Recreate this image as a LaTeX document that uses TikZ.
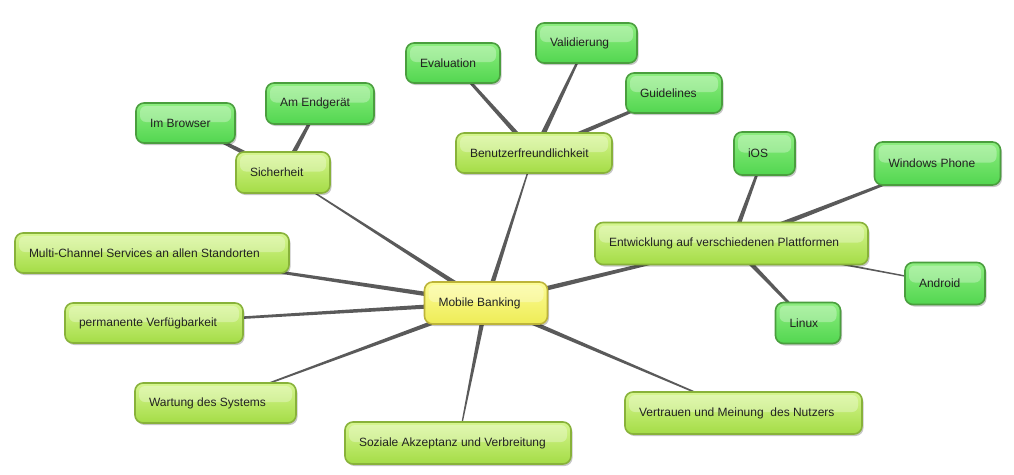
\documentclass[tikz,border=0pt]{standalone}
\usepackage{fontspec}
\setmainfont{Liberation Sans}
\usetikzlibrary{calc,shadows}
\pgfdeclarelayer{bg}
\pgfsetlayers{bg,main}
\definecolor{limeT}{HTML}{D6F690}
\definecolor{limeB}{HTML}{A4DC46}
\definecolor{limeD}{HTML}{88B23A}
\definecolor{grnT}{HTML}{8EEE80}
\definecolor{grnB}{HTML}{52D650}
\definecolor{grnD}{HTML}{4A9E3E}
\definecolor{yelT}{HTML}{FCFC96}
\definecolor{yelB}{HTML}{EEEC56}
\definecolor{yelD}{HTML}{BDB43A}
\definecolor{connc}{HTML}{5A5A5A}
\definecolor{txt}{HTML}{222222}
\tikzset{
  box/.style={rounded corners=8pt, line width=1.6pt, inner xsep=14pt, inner ysep=0pt,
    font=\fontsize{12}{14}\selectfont, text=txt,
    drop shadow={shadow xshift=1.5pt, shadow yshift=-2pt, opacity=0.22, fill=black},
    path picture={\fill[white,opacity=0.3,rounded corners=6pt]
      ([xshift=4pt,yshift=-3pt]path picture bounding box.north west) rectangle
      ([xshift=-4pt,yshift=1pt]path picture bounding box.east);}},
  limebox/.style={box, draw=limeD, top color=limeT, bottom color=limeB},
  greenbox/.style={box, draw=grnD, top color=grnT, bottom color=grnB},
  yellowbox/.style={box, draw=yelD, top color=yelT, bottom color=yelB},
}
\newcommand\taper[4]{\fill[connc]
  ($(#1.center)!#3!90:(#2.center)$) -- ($(#2.center)!#4!-90:(#1.center)$) --
  ($(#2.center)!#4!90:(#1.center)$) -- ($(#1.center)!#3!-90:(#2.center)$) -- cycle;}
\newcommand\lbl[2]{\makebox[#1][l]{#2}}
\begin{document}
\begin{tikzpicture}[x=1pt,y=-1pt]
\useasboundingbox (0,0) rectangle (1014,474);

\node[yellowbox, minimum height=42pt] (mb) at (486,303) {\lbl{95pt}{Mobile Banking}};

\node[limebox, minimum height=41pt] (sich) at (283,172.5) {\lbl{66pt}{Sicherheit}};
\node[greenbox, minimum height=40pt] (brow) at (185.5,123) {\lbl{71pt}{Im Browser}};
\node[greenbox, minimum height=41pt] (endg) at (320,103.5) {\lbl{80pt}{Am Endgerät}};

\node[limebox, minimum height=40pt] (benu) at (534,153) {\lbl{128pt}{Benutzerfreundlichkeit}};
\node[greenbox, minimum height=40pt] (eval) at (453,63) {\lbl{66pt}{Evaluation}};
\node[greenbox, minimum height=40pt] (vali) at (586.5,43) {\lbl{73pt}{Validierung}};
\node[greenbox, minimum height=40pt] (guid) at (674,93) {\lbl{68pt}{Guidelines}};

\node[limebox, minimum height=42pt] (entw) at (731.5,243.5) {\lbl{245pt}{Entwicklung auf verschiedenen Plattformen}};
\node[greenbox, minimum height=43pt] (ios) at (764.5,153.5) {\lbl{33pt}{iOS}};
\node[greenbox, minimum height=43pt] (winp) at (937.5,163.5) {\lbl{98pt}{Windows Phone}};
\node[greenbox, minimum height=42pt] (andr) at (945,283.5) {\lbl{52pt}{Android}};
\node[greenbox, minimum height=41pt] (linu) at (808,323) {\lbl{37pt}{Linux}};

\node[limebox, minimum height=40pt] (mult) at (152,253) {\lbl{246pt}{Multi-Channel Services an allen Standorten}};
\node[limebox, minimum height=40pt] (perm) at (154,323) {\lbl{150pt}{permanente Verfügbarkeit}};
\node[limebox, minimum height=40pt] (wart) at (215.5,403) {\lbl{133pt}{Wartung des Systems}};
\node[limebox, minimum height=42pt] (sozi) at (458,443) {\lbl{198pt}{Soziale Akzeptanz und Verbreitung}};
\node[limebox, minimum height=42pt] (vert) at (743.5,413) {\lbl{209pt}{Vertrauen und Meinung\ \ des Nutzers}};

\begin{pgfonlayer}{bg}
\fill[white] (0,0) rectangle (1014,474);
\taper{mb}{sich}{2.5pt}{0.4pt}
\taper{mb}{benu}{2.5pt}{0.4pt}
\taper{mb}{entw}{2.6pt}{1.2pt}
\taper{mb}{mult}{2.5pt}{0.8pt}
\taper{mb}{perm}{2.3pt}{0.9pt}
\taper{mb}{wart}{2.5pt}{0.4pt}
\taper{mb}{sozi}{2.5pt}{0.3pt}
\taper{mb}{vert}{2.5pt}{0.4pt}
\taper{sich}{brow}{2.6pt}{1.2pt}
\taper{sich}{endg}{2.6pt}{1.2pt}
\taper{benu}{eval}{2.5pt}{1.2pt}
\taper{benu}{vali}{2.8pt}{0.8pt}
\taper{benu}{guid}{2.5pt}{1.2pt}
\taper{entw}{ios}{2.5pt}{1.0pt}
\taper{entw}{winp}{2.8pt}{0.9pt}
\taper{entw}{andr}{1.2pt}{0.6pt}
\taper{entw}{linu}{2.5pt}{1.0pt}
\end{pgfonlayer}
\end{tikzpicture}
\end{document}
